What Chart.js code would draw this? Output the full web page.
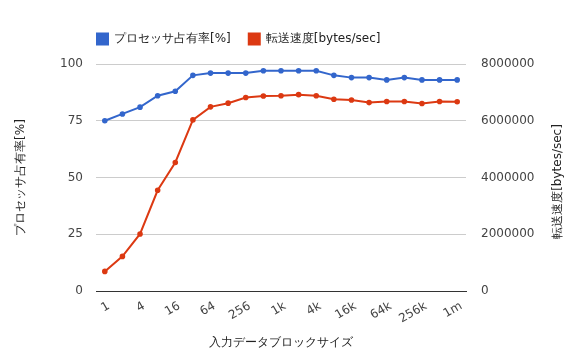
<!DOCTYPE html>
<html>
<head>
<meta charset="utf-8">
<script src="https://cdn.jsdelivr.net/npm/chart.js@4"></script>
<style>
  body { margin: 0; background: #fff; }
</style>
</head>
<body>
<canvas id="chart" width="578" height="362"></canvas>
<script>
const blockSizes = ["1", "2", "4", "8", "16", "32", "64", "128", "256", "512",
    "1k", "2k", "4k", "8k", "16k", "32k", "64k", "128k", "256k", "512k", "1m"];

const cpuUsage = [75, 78, 81, 86, 88, 95, 96, 96, 96, 97,
    97, 97, 97, 95, 94, 94, 93, 94, 93, 93, 93];

const transferRate = [690000, 1220000, 2010000, 3550000, 4530000, 6030000, 6490000, 6620000, 6820000, 6870000,
    6880000, 6920000, 6880000, 6760000, 6730000, 6640000, 6680000, 6680000, 6610000, 6680000, 6670000];

const cpuTicks = [0, 25, 50, 75, 100];
const rateTicks = [0, 2000000, 4000000, 6000000, 8000000];

const rightTitle = "転送速度[bytes/sec]";

Chart.defaults.font.family = "'DejaVu Sans', sans-serif";
Chart.defaults.font.size = 12;
Chart.defaults.color = "#444";

// legend starts at the plot's left edge, right axis title reads bottom-to-top
const layoutFix = {
    id: "layoutFix",
    afterLayout(chart) {
        chart.legend.left = chart.chartArea.left - 17;
        chart.legend.top -= 9;
    },
    afterDraw(chart) {
        const c = chart.ctx;
        const area = chart.chartArea;
        c.save();
        c.translate(558, (area.top + area.bottom) / 2 + 4);
        c.rotate(-Math.PI / 2);
        c.font = "12px 'DejaVu Sans', sans-serif";
        c.fillStyle = "#222";
        c.textAlign = "center";
        c.textBaseline = "middle";
        c.fillText(rightTitle, 0, 0);
        c.restore();
    }
};

const ctx = document.getElementById("chart");

new Chart(ctx, {
    type: "line",
    data: {
        labels: blockSizes,
        datasets: [{
            label: "プロセッサ占有率[%]",
            data: cpuUsage,
            yAxisID: "y",
            borderColor: "#3366CC",
            backgroundColor: "#3366CC",
            borderWidth: 2,
            pointRadius: 1.8,
            pointBackgroundColor: "#3366CC",
            tension: 0
        }, {
            label: rightTitle,
            data: transferRate,
            yAxisID: "y1",
            borderColor: "#DC3912",
            backgroundColor: "#DC3912",
            borderWidth: 2,
            pointRadius: 1.8,
            pointBackgroundColor: "#DC3912",
            tension: 0
        }]
    },
    options: {
        responsive: false,
        animation: false,
        devicePixelRatio: 1,
        layout: {
            padding: { left: 0, right: 0, top: 24, bottom: 0 }
        },
        plugins: {
            legend: {
                align: "start",
                labels: {
                    boxWidth: 11,
                    boxHeight: 11,
                    padding: 18,
                    color: "#222"
                }
            },
            tooltip: { enabled: false }
        },
        scales: {
            x: {
                offset: true,
                grid: { display: false, drawTicks: false },
                border: { color: "#333", width: 1 },
                afterFit(axis) { axis.height = 71; },
                ticks: {
                    autoSkip: false,
                    maxRotation: 30,
                    minRotation: 30,
                    padding: 8,
                    labelOffset: 4,
                    callback: function (value, index) {
                        return index % 2 === 0 ? blockSizes[index] : "";
                    }
                },
                title: {
                    display: true,
                    text: "入力データブロックサイズ",
                    color: "#222",
                    padding: { top: 4, bottom: 12 }
                }
            },
            y: {
                position: "left",
                min: 0,
                max: 100,
                afterFit(axis) { axis.width = 96; },
                afterBuildTicks: function (axis) {
                    axis.ticks = cpuTicks.map(v => ({ value: v }));
                },
                grid: { color: "#cccccc", drawTicks: false },
                border: { display: false },
                ticks: { padding: 13 },
                title: {
                    display: true,
                    text: "プロセッサ占有率[%]",
                    color: "#222",
                    padding: { top: 14, bottom: 4 }
                }
            },
            y1: {
                position: "right",
                min: 0,
                max: 8000000,
                afterFit(axis) { axis.width = 112; },
                afterBuildTicks: function (axis) {
                    axis.ticks = rateTicks.map(v => ({ value: v }));
                },
                grid: { drawOnChartArea: false, drawTicks: false },
                border: { display: false },
                ticks: {
                    padding: 15,
                    callback: function (value) { return String(value); }
                }
            }
        }
    },
    plugins: [layoutFix]
});
</script>
</body>
</html>
